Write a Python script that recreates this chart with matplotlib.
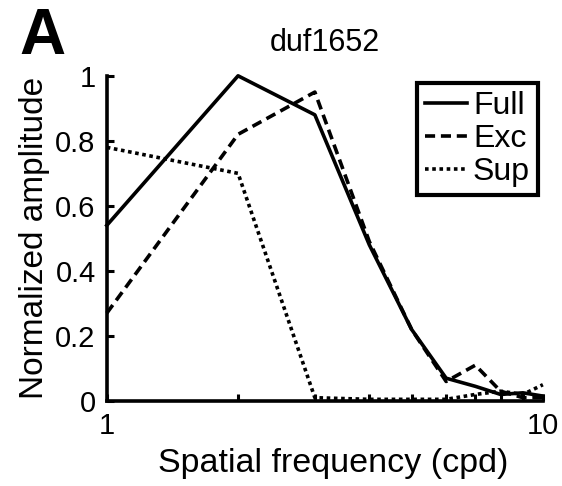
import matplotlib
matplotlib.use("Agg")
import matplotlib.pyplot as plt
from matplotlib.ticker import FixedLocator, NullFormatter

plt.rcParams['font.family'] = ['Liberation Sans', 'DejaVu Sans']

sf = [1, 2, 3, 4, 5, 6, 7, 8, 9, 10]
full = [0.54, 1.0, 0.88, 0.48, 0.22, 0.07, 0.045, 0.02, 0.025, 0.015]
exc = [0.27, 0.82, 0.95, 0.49, 0.22, 0.06, 0.11, 0.03, 0.01, 0.01]
sup = [0.78, 0.70, 0.01, 0.005, 0.005, 0.005, 0.02, 0.03, 0.02, 0.05]
yticks = [0, 0.2, 0.4, 0.6, 0.8, 1]
yticklabels = ["0", "0.2", "0.4", "0.6", "0.8", "1"]
xticks = [1, 10]
xticklabels = ["1", "10"]
minor_xticks = [2, 3, 4, 5, 6, 7, 8, 9]

fig = plt.figure(figsize=(5.62, 4.86), dpi=100)
ax = fig.add_axes([0.190, 0.175, 0.776, 0.669])

lw = 2.6
ax.plot(sf, full, color='black', lw=lw, ls='-', label='Full', clip_on=False)
ax.plot(sf, exc, color='black', lw=lw, ls=(0, (2.8, 1.6)), label='Exc', clip_on=False)
ax.plot(sf, sup, color='black', lw=lw, ls=(0, (1, 1.0)), label='Sup', clip_on=False)

ax.set_xscale('log')
ax.set_xlim(1, 10)
ax.set_ylim(0, 1)
ax.xaxis.set_major_locator(FixedLocator(xticks))
ax.set_xticklabels(xticklabels)
ax.xaxis.set_minor_locator(FixedLocator(minor_xticks))
ax.xaxis.set_minor_formatter(NullFormatter())
ax.set_yticks(yticks)
ax.set_yticklabels(yticklabels)

for s in ['top', 'right']:
    ax.spines[s].set_visible(False)
for s in ['left', 'bottom']:
    ax.spines[s].set_linewidth(2.6)

ax.tick_params(axis='both', which='major', direction='in', length=5, width=2.2,
               labelsize=21, pad=8)
ax.tick_params(axis='x', which='minor', direction='in', length=5, width=2.2)

ax.set_xlabel('Spatial frequency (cpd)', fontsize=24.5, labelpad=6)
ax.xaxis.set_label_coords(0.52, -0.145)
ax.set_ylabel('Normalized amplitude', fontsize=24, labelpad=4)
ax.set_title('duf1652', fontsize=22, pad=18)

leg = ax.legend(loc='upper right', bbox_to_anchor=(0.9885, 0.978), fontsize=23,
                frameon=True, fancybox=False, handlelength=1.3, handletextpad=0.2,
                borderpad=0.25, labelspacing=0.1, borderaxespad=0)
leg.get_frame().set_edgecolor('black')
leg.get_frame().set_linewidth(3)
leg.get_frame().set_alpha(1)

fig.text(0.035, 0.985, 'A', fontsize=46, fontweight='bold', va='top', ha='left')

fig.savefig('out.png', dpi=100)
